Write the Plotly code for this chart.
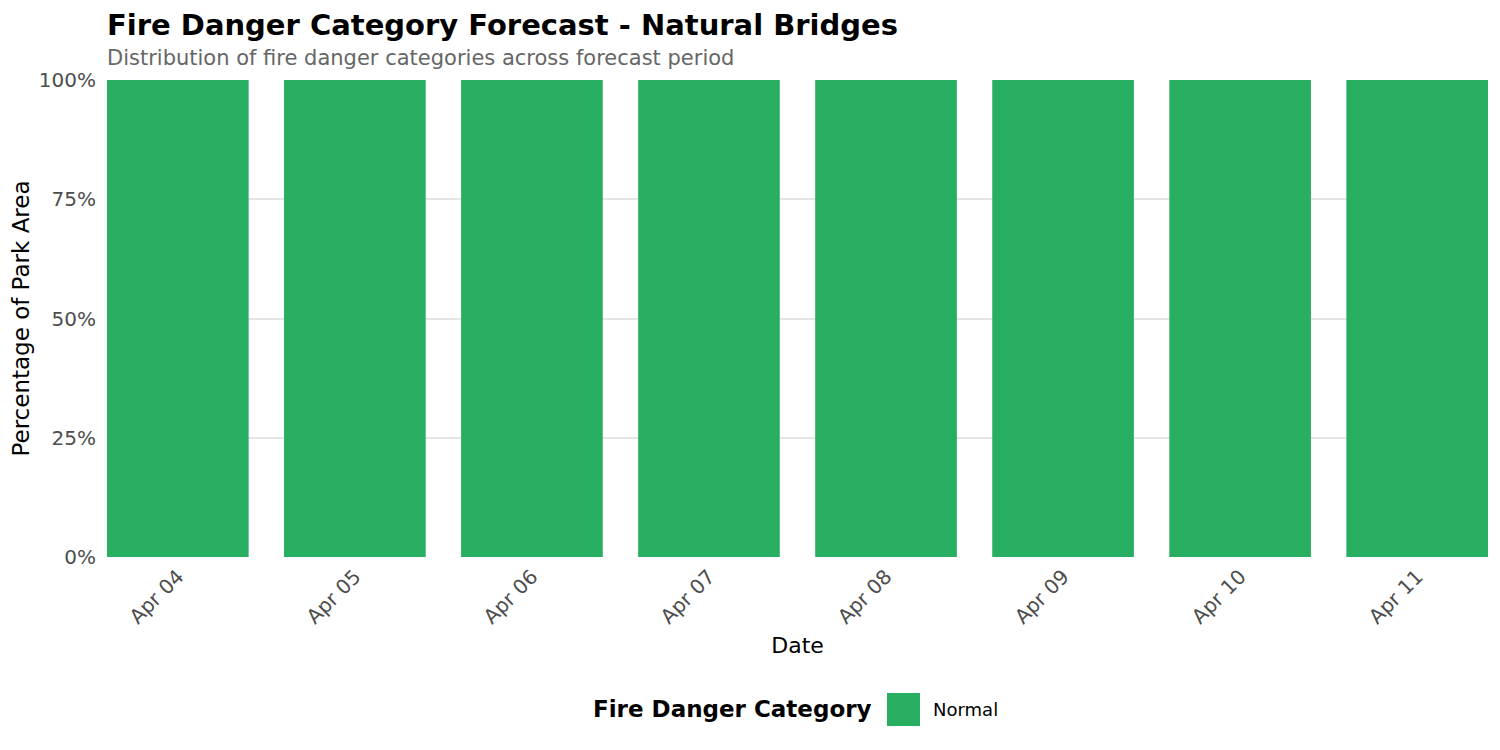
import plotly.graph_objects as go

# forecast dates and share of park area per fire danger category
dates = ["Apr 04", "Apr 05", "Apr 06", "Apr 07", "Apr 08", "Apr 09", "Apr 10", "Apr 11"]
category = "Normal"
share_normal = [1.0, 1.0, 1.0, 1.0, 1.0, 1.0, 1.0, 1.0]
cat_color = "#27AE60"

W, H = 1500, 750
L, R, T, B = 99, 20, 72, 201
PW, PH = W - L - R, H - T - B
FONT = "DejaVu Sans"


def px(x):
    # figure pixel -> paper x
    return (x - L) / PW


def py(y):
    # figure pixel -> paper y
    return (H - B - y) / PH


fig = go.Figure()
fig.add_trace(go.Bar(
    x=dates, y=share_normal, name=category,
    marker=dict(color=cat_color, line=dict(width=0)),
    width=0.8, showlegend=False,
    hovertemplate="%{x}<br>" + category + ": %{y:.0%}<extra></extra>"
))

# legend drawn by hand so the key box matches the ggplot size
fig.add_annotation(
    xref="paper", yref="paper", x=px(866), y=py(701),
    text="<b>Fire Danger Category</b>", showarrow=False, xanchor="right", yanchor="middle",
    font=dict(family=FONT, size=23, color="#000000")
)
fig.add_shape(
    type="rect", xref="paper", yref="paper",
    x0=px(879), x1=px(912), y0=py(718), y1=py(685),
    fillcolor=cat_color, line=dict(width=0)
)
fig.add_annotation(
    xref="paper", yref="paper", x=px(923), y=py(701),
    text=category, showarrow=False, xanchor="left", yanchor="middle",
    font=dict(family=FONT, size=18, color="#000000")
)

# subtitle
fig.add_annotation(
    xref="paper", yref="paper", x=0, y=py(50), xshift=-2,
    text="Distribution of fire danger categories across forecast period",
    showarrow=False, xanchor="left", yanchor="middle",
    font=dict(family=FONT, size=21, color="#666666")
)

fig.update_layout(
    width=W, height=H,
    margin=dict(l=L, r=R, t=T, b=B, autoexpand=False),
    paper_bgcolor="white", plot_bgcolor="white",
    font=dict(family=FONT),
    title=dict(
        text="<b>Fire Danger Category Forecast - Natural Bridges</b>",
        xref="container", yref="container", x=L / W, y=1 - 17 / H,
        xanchor="left", yanchor="middle",
        font=dict(family=FONT, size=29, color="#000000")
    ),
    xaxis=dict(
        title=dict(text="Date", font=dict(family=FONT, size=22, color="#000000"), standoff=10),
        tickangle=-45, tickfont=dict(family=FONT, size=20, color="#4D4D4D"),
        range=[-0.4, len(dates) - 0.6], showgrid=False, zeroline=False,
        showline=False, ticks="", ticklabelstandoff=3, automargin=False
    ),
    yaxis=dict(
        title=dict(text="Percentage of Park Area", font=dict(family=FONT, size=23, color="#000000"), standoff=8),
        tickformat=".0%", tickvals=[0, 0.25, 0.5, 0.75, 1.0],
        tickfont=dict(family=FONT, size=20, color="#4D4D4D"),
        range=[0, 1], gridcolor="#E5E5E5", gridwidth=2, zeroline=False,
        showline=False, ticks="", ticklabelstandoff=10, automargin=False
    ),
)

fig.write_html("out.html")
